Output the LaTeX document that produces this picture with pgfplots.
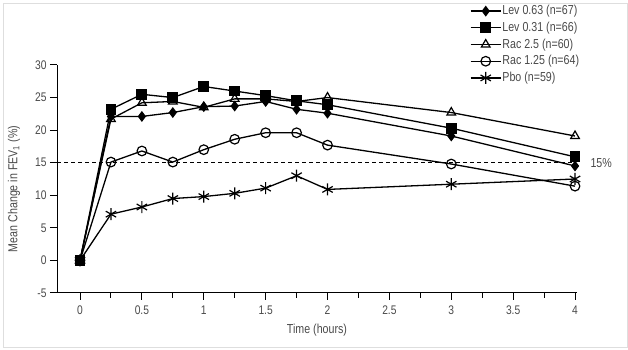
\documentclass[border=0pt]{standalone}
\usepackage{fontspec}
\setmainfont{Liberation Sans}[FakeStretch=0.82]
\usepackage{pgfplots}
\pgfplotsset{compat=1.18}
\definecolor{txt}{HTML}{4A4A4A}
\begin{document}
\begin{tikzpicture}
\path[use as bounding box, fill=white] (0,0) rectangle (628pt,350pt);
\draw[black!13, line width=0.8pt] (3pt,3pt) rectangle (627pt,347pt);
\begin{axis}[
  at={(57pt,57pt)}, anchor=south west, scale only axis,
  width=520pt, height=228pt,
  xmin=-0.186, xmax=4.016, ymin=-5, ymax=30,
  axis lines=left, axis line style={-, black, line width=1pt},
  clip=false,
  xtick={0,0.5,1,1.5,2,2.5,3,3.5,4},
  xticklabels={0,0.5,1,1.5,2,2.5,3,3.5,4},
  minor xtick={0.25,0.75,1.25,1.75,2.25,2.75,3.25,3.75},
  ytick={-5,0,5,10,15,20,25,30},
  yticklabels={-5,0,5,10,15,20,25,30},
  tick align=outside, major tick length=7pt, minor tick length=5pt,
  tick style={black, line width=1pt},
  ticklabel style={font=\fontsize{12.5}{14}\selectfont, text=txt},
  xticklabel style={yshift=-2pt},
  xlabel={Time (hours)},
  ylabel={Mean Change in FEV\textsubscript{1} (\%)},
  xlabel style={at={(rel axis cs:0.5,0)}, anchor=center, yshift=-37pt, font=\fontsize{13}{15}\selectfont, text=txt},
  ylabel style={at={(rel axis cs:0,0.5)}, anchor=center, xshift=-10pt, yshift=43pt, font=\fontsize{13}{15}\selectfont, text=txt},
  legend style={at={(0.794,1.27)}, anchor=north west, draw=none, fill=none, inner sep=0pt,
    font=\fontsize{13}{15}\selectfont, text=txt, row sep=1.7pt,
    nodes={inner sep=1pt, text height=10pt, text depth=3pt}},
  legend cell align=left,
  legend image code/.code={\draw[mark repeat=2,mark phase=2,#1] plot coordinates {(0pt,0pt) (15pt,0pt) (30pt,0pt)};},
  every axis plot/.append style={black, line width=1.3pt, mark options={solid, line width=1.2pt}},
]
\addplot[mark=diamond*, mark size=4.5pt] coordinates {
 (0,0) (0.25,22.1) (0.5,22.1) (0.75,22.7) (1,23.6) (1.25,23.7) (1.5,24.4) (1.75,23.2) (2,22.6) (3,19.1) (4,14.5)};
\addlegendentry{Lev 0.63 (n=67)}
\addplot[mark=square*, mark size=4.8pt] coordinates {
 (0,0) (0.25,23.2) (0.5,25.5) (0.75,25.0) (1,26.7) (1.25,26.0) (1.5,25.3) (1.75,24.5) (2,23.9) (3,20.3) (4,15.9)};
\addlegendentry{Lev 0.31 (n=66)}
\addplot[mark=triangle, mark size=5pt] coordinates {
 (0,0) (0.25,21.7) (0.5,24.2) (0.75,24.4) (1,23.5) (1.25,24.8) (1.5,24.8) (1.75,24.4) (2,25.0) (3,22.7) (4,19.1)};
\addlegendentry{Rac 2.5 (n=60)}
\addplot[mark=o, mark size=4.8pt] coordinates {
 (0,0) (0.25,15.1) (0.5,16.8) (0.75,15.1) (1,17.0) (1.25,18.6) (1.5,19.6) (1.75,19.6) (2,17.7) (3,14.8) (4,11.4)};
\addlegendentry{Rac 1.25 (n=64)}
\addplot[mark=asterisk, mark size=6pt] coordinates {
 (0,0) (0.25,7.1) (0.5,8.2) (0.75,9.5) (1,9.8) (1.25,10.3) (1.5,11.1) (1.75,13.0) (2,10.9) (3,11.7) (4,12.5)};
\addlegendentry{Pbo (n=59)}
\addplot[forget plot, mark=none, line width=1.3pt, dash pattern=on 4pt off 3pt] coordinates {(-0.186,15) (4,15)};
\node[anchor=west, text=txt, font=\fontsize{13}{15}\selectfont, xshift=12pt] at (axis cs:4,15) {15\%};
\end{axis}
\end{tikzpicture}
\end{document}
